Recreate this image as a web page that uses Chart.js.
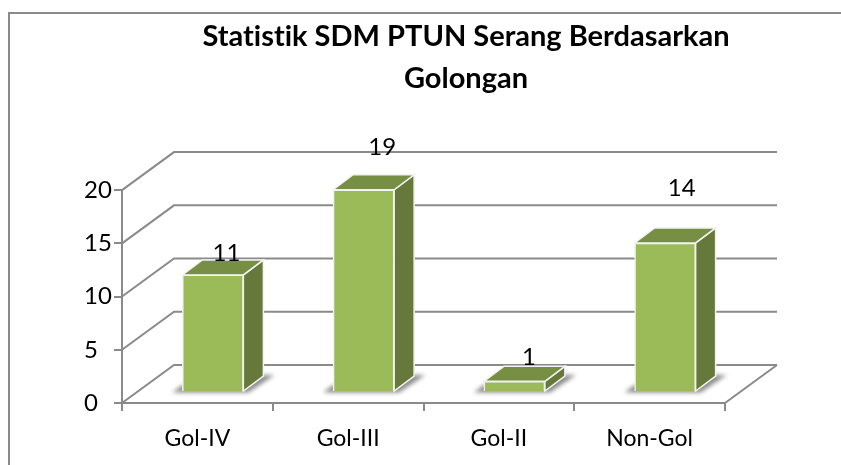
<!DOCTYPE html>
<html>
<head>
<meta charset="utf-8">
<title>Statistik SDM PTUN Serang</title>
<script src="https://cdn.jsdelivr.net/npm/chart.js@4"></script>
<style>
  html, body { margin: 0; background: #fff; }
  canvas { display: block; }
</style>
</head>
<body>
<canvas id="myChart" width="841" height="465"></canvas>
<script>
// Data
const judul = ['Statistik SDM PTUN Serang Berdasarkan', 'Golongan'];
const golongan = ['Gol-IV', 'Gol-III', 'Gol-II', 'Non-Gol'];
const jumlah = [11, 19, 1, 14];

// Geser label data, sama seperti di gambar asli
const geserLabelX = [29, 34, 30, 32];
const geserLabelY = [-33, -53, -35, -66];

// Kedalaman efek 3D
const dinding = { dx: 52, dy: -38 };
const batang = { dx: 20, dy: -15, geserX: 15.5, geserY: -11 };

const warnaGaris = '#8a8a8a';
const fontTeks = 'Lato, Carlito, sans-serif';

function poligon(ctx, titik, warna, garis) {
    ctx.beginPath();
    titik.forEach((p, i) => i ? ctx.lineTo(p[0], p[1]) : ctx.moveTo(p[0], p[1]));
    ctx.closePath();
    ctx.fillStyle = warna;
    ctx.fill();
    if (garis) {
        ctx.strokeStyle = garis;
        ctx.lineWidth = 1.5;
        ctx.stroke();
    }
}

const efek3D = {
    id: 'efek3D',
    afterLayout(chart) {
        // judul tidak di tengah area plot
        chart.titleBlock.left += 61.5;
        chart.titleBlock.right += 61.5;
    },
    beforeDraw(chart) {
        const ctx = chart.ctx;
        ctx.textRendering = 'optimizeSpeed'; // tanpa ligatur "ti"
        ctx.save();
        ctx.strokeStyle = warnaGaris;
        ctx.lineWidth = 2;
        ctx.beginPath();
        ctx.moveTo(9, 465);
        ctx.lineTo(9, 13);
        ctx.lineTo(841, 13);
        ctx.stroke();
        ctx.restore();
    },
    beforeDatasetsDraw(chart) {
        const ctx = chart.ctx;
        const x = chart.scales.x;
        const y = chart.scales.y;
        ctx.save();
        ctx.strokeStyle = warnaGaris;
        ctx.lineWidth = 2;
        y.ticks.forEach(t => {
            const py = y.getPixelForValue(t.value);
            ctx.beginPath();
            ctx.moveTo(x.left, py);
            ctx.lineTo(x.left + dinding.dx, py + dinding.dy);
            ctx.lineTo(x.right + dinding.dx, py + dinding.dy);
            ctx.stroke();
        });
        const bawah = y.getPixelForValue(0);
        ctx.beginPath();
        ctx.moveTo(x.right, bawah);
        ctx.lineTo(x.right + dinding.dx, bawah + dinding.dy);
        ctx.stroke();
        ctx.restore();
    },
    beforeDatasetDraw(chart, args) {
        const ctx = chart.ctx;
        ctx.save();
        ctx.translate(batang.geserX, batang.geserY);
        args.meta.data.forEach(bar => {
            const kiri = bar.x - bar.width / 2;
            const kanan = bar.x + bar.width / 2;
            const dx = batang.dx;
            const dy = batang.dy;

            // bayangan di lantai
            ctx.save();
            ctx.filter = 'blur(2px)';
            poligon(ctx, [
                [kiri - 10, bar.base + 1.5],
                [kanan + 5, bar.base + 1.5],
                [kanan + dx + 11, bar.base + dy - 1],
                [kanan + dx - 4, bar.base + dy - 1],
                [kiri, bar.base - 6]
            ], '#8c8c8c');
            ctx.restore();

            // sisi kanan dan atas
            poligon(ctx, [[kanan, bar.y], [kanan + dx, bar.y + dy], [kanan + dx, bar.base + dy], [kanan, bar.base]], '#66793a', '#f2f2f2');
            poligon(ctx, [[kiri, bar.y], [kiri + dx, bar.y + dy], [kanan + dx, bar.y + dy], [kanan, bar.y]], '#778f43', '#f2f2f2');
        });
    },
    afterDatasetDraw(chart) {
        chart.ctx.restore();
    },
    afterDatasetsDraw(chart) {
        const ctx = chart.ctx;
        const meta = chart.getDatasetMeta(0);
        ctx.save();
        ctx.fillStyle = '#000';
        ctx.font = '24px ' + fontTeks;
        ctx.textAlign = 'center';
        ctx.textBaseline = 'middle';
        meta.data.forEach((bar, i) => {
            ctx.fillText(jumlah[i], bar.x + geserLabelX[i], bar.y + geserLabelY[i]);
        });
        ctx.restore();
    }
};

const myChart = new Chart(document.getElementById('myChart'), {
    type: 'bar',
    data: {
        labels: golongan,
        datasets: [{
            label: 'Jumlah',
            data: jumlah,
            backgroundColor: '#9bbb59',
            borderColor: '#f2f2f2',
            borderWidth: 1.5,
            barThickness: 61
        }]
    },
    plugins: [efek3D],
    options: {
        responsive: false,
        animation: false,
        layout: { padding: { left: 84, right: 116, top: 0, bottom: 0 } },
        plugins: {
            legend: { display: false },
            tooltip: { enabled: false },
            title: {
                display: true,
                text: judul,
                color: '#000',
                font: { family: fontTeks, size: 29, weight: 'bold', lineHeight: 1.45 },
                padding: { top: 16, bottom: 90 }
            }
        },
        scales: {
            x: {
                afterFit(s) { s.height = 62; },
                grid: { drawOnChartArea: false, tickLength: 8, color: warnaGaris, lineWidth: 2 },
                border: { color: warnaGaris, width: 2 },
                ticks: { color: '#000', padding: 14, maxRotation: 0, font: { family: fontTeks, size: 23 } }
            },
            y: {
                min: 0,
                max: 20,
                afterFit(s) { s.width = 38; },
                grid: { drawOnChartArea: false, tickLength: 8, color: warnaGaris, lineWidth: 2 },
                border: { color: warnaGaris, width: 2 },
                ticks: { stepSize: 5, color: '#000', padding: 4, crossAlign: 'far', font: { family: fontTeks, size: 24 } }
            }
        }
    }
});
</script>
</body>
</html>
